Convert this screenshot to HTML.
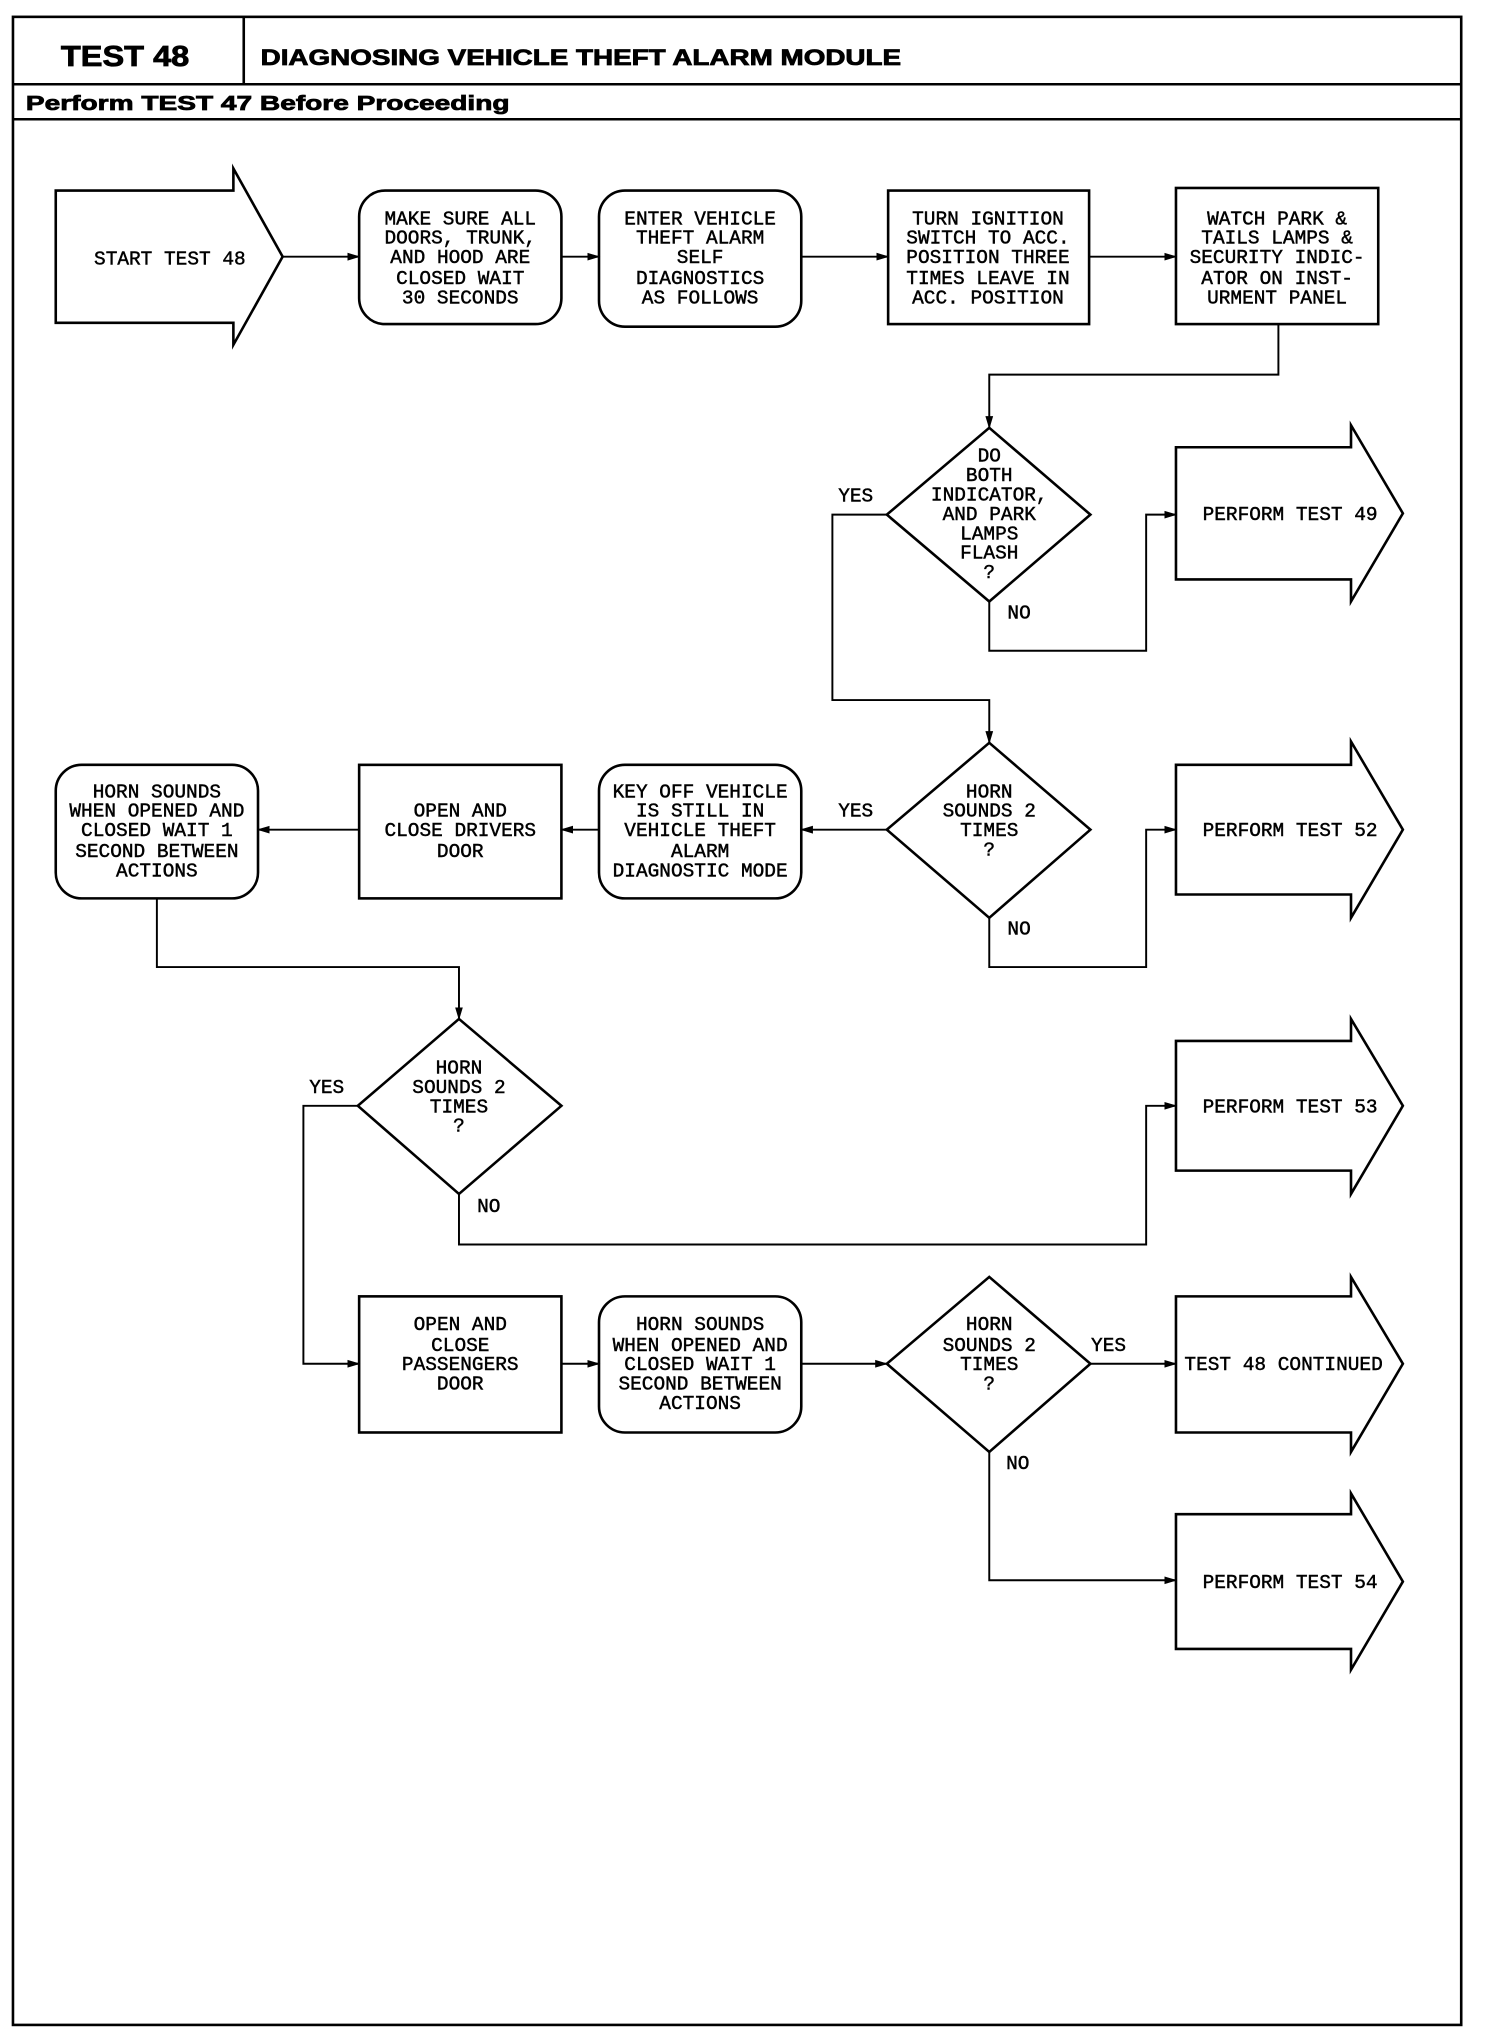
<!DOCTYPE html>
<html><head><meta charset="utf-8"><style>
html,body{margin:0;padding:0;background:#fff;}
svg{display:block}
text{font-family:"Liberation Mono",monospace;font-size:15px;fill:#000;text-anchor:middle;stroke:#000;stroke-width:0.35;}
.b{font-family:"Liberation Sans",sans-serif;font-weight:bold;text-anchor:start;stroke-width:0.6;}
</style></head><body>
<svg width="1504" height="2034" viewBox="0 0 1160 1569" preserveAspectRatio="none" xmlns="http://www.w3.org/2000/svg">
<defs><marker id="a" markerWidth="10" markerHeight="8" refX="9" refY="4" orient="auto" markerUnits="userSpaceOnUse"><path d="M0,1 L10,4 L0,7 Z" fill="#000"/></marker></defs>
<g fill="none" stroke="#000" stroke-width="2">
<rect x="10" y="13" width="1117" height="1549"/>
<line x1="10" y1="65" x2="1127" y2="65"/>
<line x1="10" y1="92" x2="1127" y2="92"/>
<line x1="188" y1="13" x2="188" y2="65"/>
<polygon points="43,147 180,147 180,130 218,198 180,266 180,249 43,249"/>
<rect x="277" y="147" width="156" height="103" rx="20"/>
<rect x="462" y="147" width="156" height="105" rx="20"/>
<rect x="685" y="147" width="155" height="103"/>
<rect x="907" y="145" width="156" height="105"/>
<polygon points="763,330 841,397 763,464 684,397"/>
<polygon points="907,345 1042,345 1042,328 1082,396 1042,464 1042,447 907,447"/>
<polygon points="763,573 841,640 763,708 684,640"/>
<polygon points="907,590 1042,590 1042,572 1082,640 1042,708 1042,690 907,690"/>
<rect x="462" y="590" width="156" height="103" rx="20"/>
<rect x="277" y="590" width="156" height="103"/>
<rect x="43" y="590" width="156" height="103" rx="20"/>
<polygon points="354,786 433,853 354,921 276,853"/>
<polygon points="907,803 1042,803 1042,786 1082,853 1042,921 1042,903 907,903"/>
<rect x="277" y="1000" width="156" height="105"/>
<rect x="462" y="1000" width="156" height="105" rx="20"/>
<polygon points="763,985 841,1052 763,1120 684,1052"/>
<polygon points="907,1000 1042,1000 1042,985 1082,1052 1042,1120 1042,1105 907,1105"/>
<polygon points="907,1168 1042,1168 1042,1152 1082,1220 1042,1288 1042,1272 907,1272"/>
</g>
<g fill="none" stroke="#000" stroke-width="1.5" marker-end="url(#a)">
<line x1="218" y1="198" x2="277" y2="198"/>
<line x1="433" y1="198" x2="462" y2="198"/>
<line x1="618" y1="198" x2="685" y2="198"/>
<line x1="840" y1="198" x2="907" y2="198"/>
<polyline points="986,250 986,289 763,289 763,330"/>
<polyline points="684,397 642,397 642,540 763,540 763,573"/>
<polyline points="763,464 763,502 884,502 884,397 907,397"/>
<line x1="684" y1="640" x2="618" y2="640"/>
<polyline points="763,708 763,746 884,746 884,640 907,640"/>
<line x1="462" y1="640" x2="433" y2="640"/>
<line x1="277" y1="640" x2="199" y2="640"/>
<polyline points="121,693 121,746 354,746 354,786"/>
<polyline points="276,853 234,853 234,1052 277,1052"/>
<polyline points="354,921 354,960 884,960 884,853 907,853"/>
<line x1="433" y1="1052" x2="462" y2="1052"/>
<line x1="618" y1="1052" x2="684" y2="1052"/>
<line x1="841" y1="1052" x2="907" y2="1052"/>
<polyline points="763,1120 763,1219 907,1219"/>
</g>
<text class="b" x="47" y="51" style="font-size:22px" textLength="99" lengthAdjust="spacingAndGlyphs">TEST 48</text>
<text class="b" x="201" y="50" style="font-size:17px" textLength="494" lengthAdjust="spacingAndGlyphs">DIAGNOSING VEHICLE THEFT ALARM MODULE</text>
<text class="b" x="20" y="85" style="font-size:16px" textLength="373" lengthAdjust="spacingAndGlyphs">Perform TEST 47 Before Proceeding</text>
<text x="131" y="204">START TEST 48</text>
<text x="355" y="173">MAKE SURE ALL</text><text x="355" y="188">DOORS, TRUNK,</text><text x="355" y="203">AND HOOD ARE</text><text x="355" y="219">CLOSED WAIT</text><text x="355" y="234">30 SECONDS</text>
<text x="540" y="173">ENTER VEHICLE</text><text x="540" y="188">THEFT ALARM</text><text x="540" y="203">SELF</text><text x="540" y="219">DIAGNOSTICS</text><text x="540" y="234">AS FOLLOWS</text>
<text x="762" y="173">TURN IGNITION</text><text x="762" y="188">SWITCH TO ACC.</text><text x="762" y="203">POSITION THREE</text><text x="762" y="219">TIMES LEAVE IN</text><text x="762" y="234">ACC. POSITION</text>
<text x="985" y="173">WATCH PARK &amp;</text><text x="985" y="188">TAILS LAMPS &amp;</text><text x="985" y="203">SECURITY INDIC-</text><text x="985" y="219">ATOR ON INST-</text><text x="985" y="234">URMENT PANEL</text>
<text x="763" y="356">DO</text><text x="763" y="371">BOTH</text><text x="763" y="386">INDICATOR,</text><text x="763" y="401">AND PARK</text><text x="763" y="416">LAMPS</text><text x="763" y="431">FLASH</text><text x="763" y="446">?</text>
<text x="660" y="387">YES</text><text x="786" y="477">NO</text>
<text x="995" y="401">PERFORM TEST 49</text>
<text x="763" y="615">HORN</text><text x="763" y="630">SOUNDS 2</text><text x="763" y="645">TIMES</text><text x="763" y="660">?</text>
<text x="660" y="630">YES</text><text x="786" y="721">NO</text>
<text x="995" y="645">PERFORM TEST 52</text>
<text x="540" y="615">KEY OFF VEHICLE</text><text x="540" y="630">IS STILL IN</text><text x="540" y="645">VEHICLE THEFT</text><text x="540" y="661">ALARM</text><text x="540" y="676">DIAGNOSTIC MODE</text>
<text x="355" y="630">OPEN AND</text><text x="355" y="645">CLOSE DRIVERS</text><text x="355" y="661">DOOR</text>
<text x="121" y="615">HORN SOUNDS</text><text x="121" y="630">WHEN OPENED AND</text><text x="121" y="645">CLOSED WAIT 1</text><text x="121" y="661">SECOND BETWEEN</text><text x="121" y="676">ACTIONS</text>
<text x="354" y="828">HORN</text><text x="354" y="843">SOUNDS 2</text><text x="354" y="858">TIMES</text><text x="354" y="873">?</text>
<text x="252" y="843">YES</text><text x="377" y="935">NO</text>
<text x="995" y="858">PERFORM TEST 53</text>
<text x="355" y="1026">OPEN AND</text><text x="355" y="1042">CLOSE</text><text x="355" y="1057">PASSENGERS</text><text x="355" y="1072">DOOR</text>
<text x="540" y="1026">HORN SOUNDS</text><text x="540" y="1042">WHEN OPENED AND</text><text x="540" y="1057">CLOSED WAIT 1</text><text x="540" y="1072">SECOND BETWEEN</text><text x="540" y="1087">ACTIONS</text>
<text x="763" y="1026">HORN</text><text x="763" y="1042">SOUNDS 2</text><text x="763" y="1057">TIMES</text><text x="763" y="1072">?</text>
<text x="855" y="1042">YES</text><text x="785" y="1133">NO</text>
<text x="990" y="1057">TEST 48 CONTINUED</text>
<text x="995" y="1225">PERFORM TEST 54</text>
</svg>
</body></html>
